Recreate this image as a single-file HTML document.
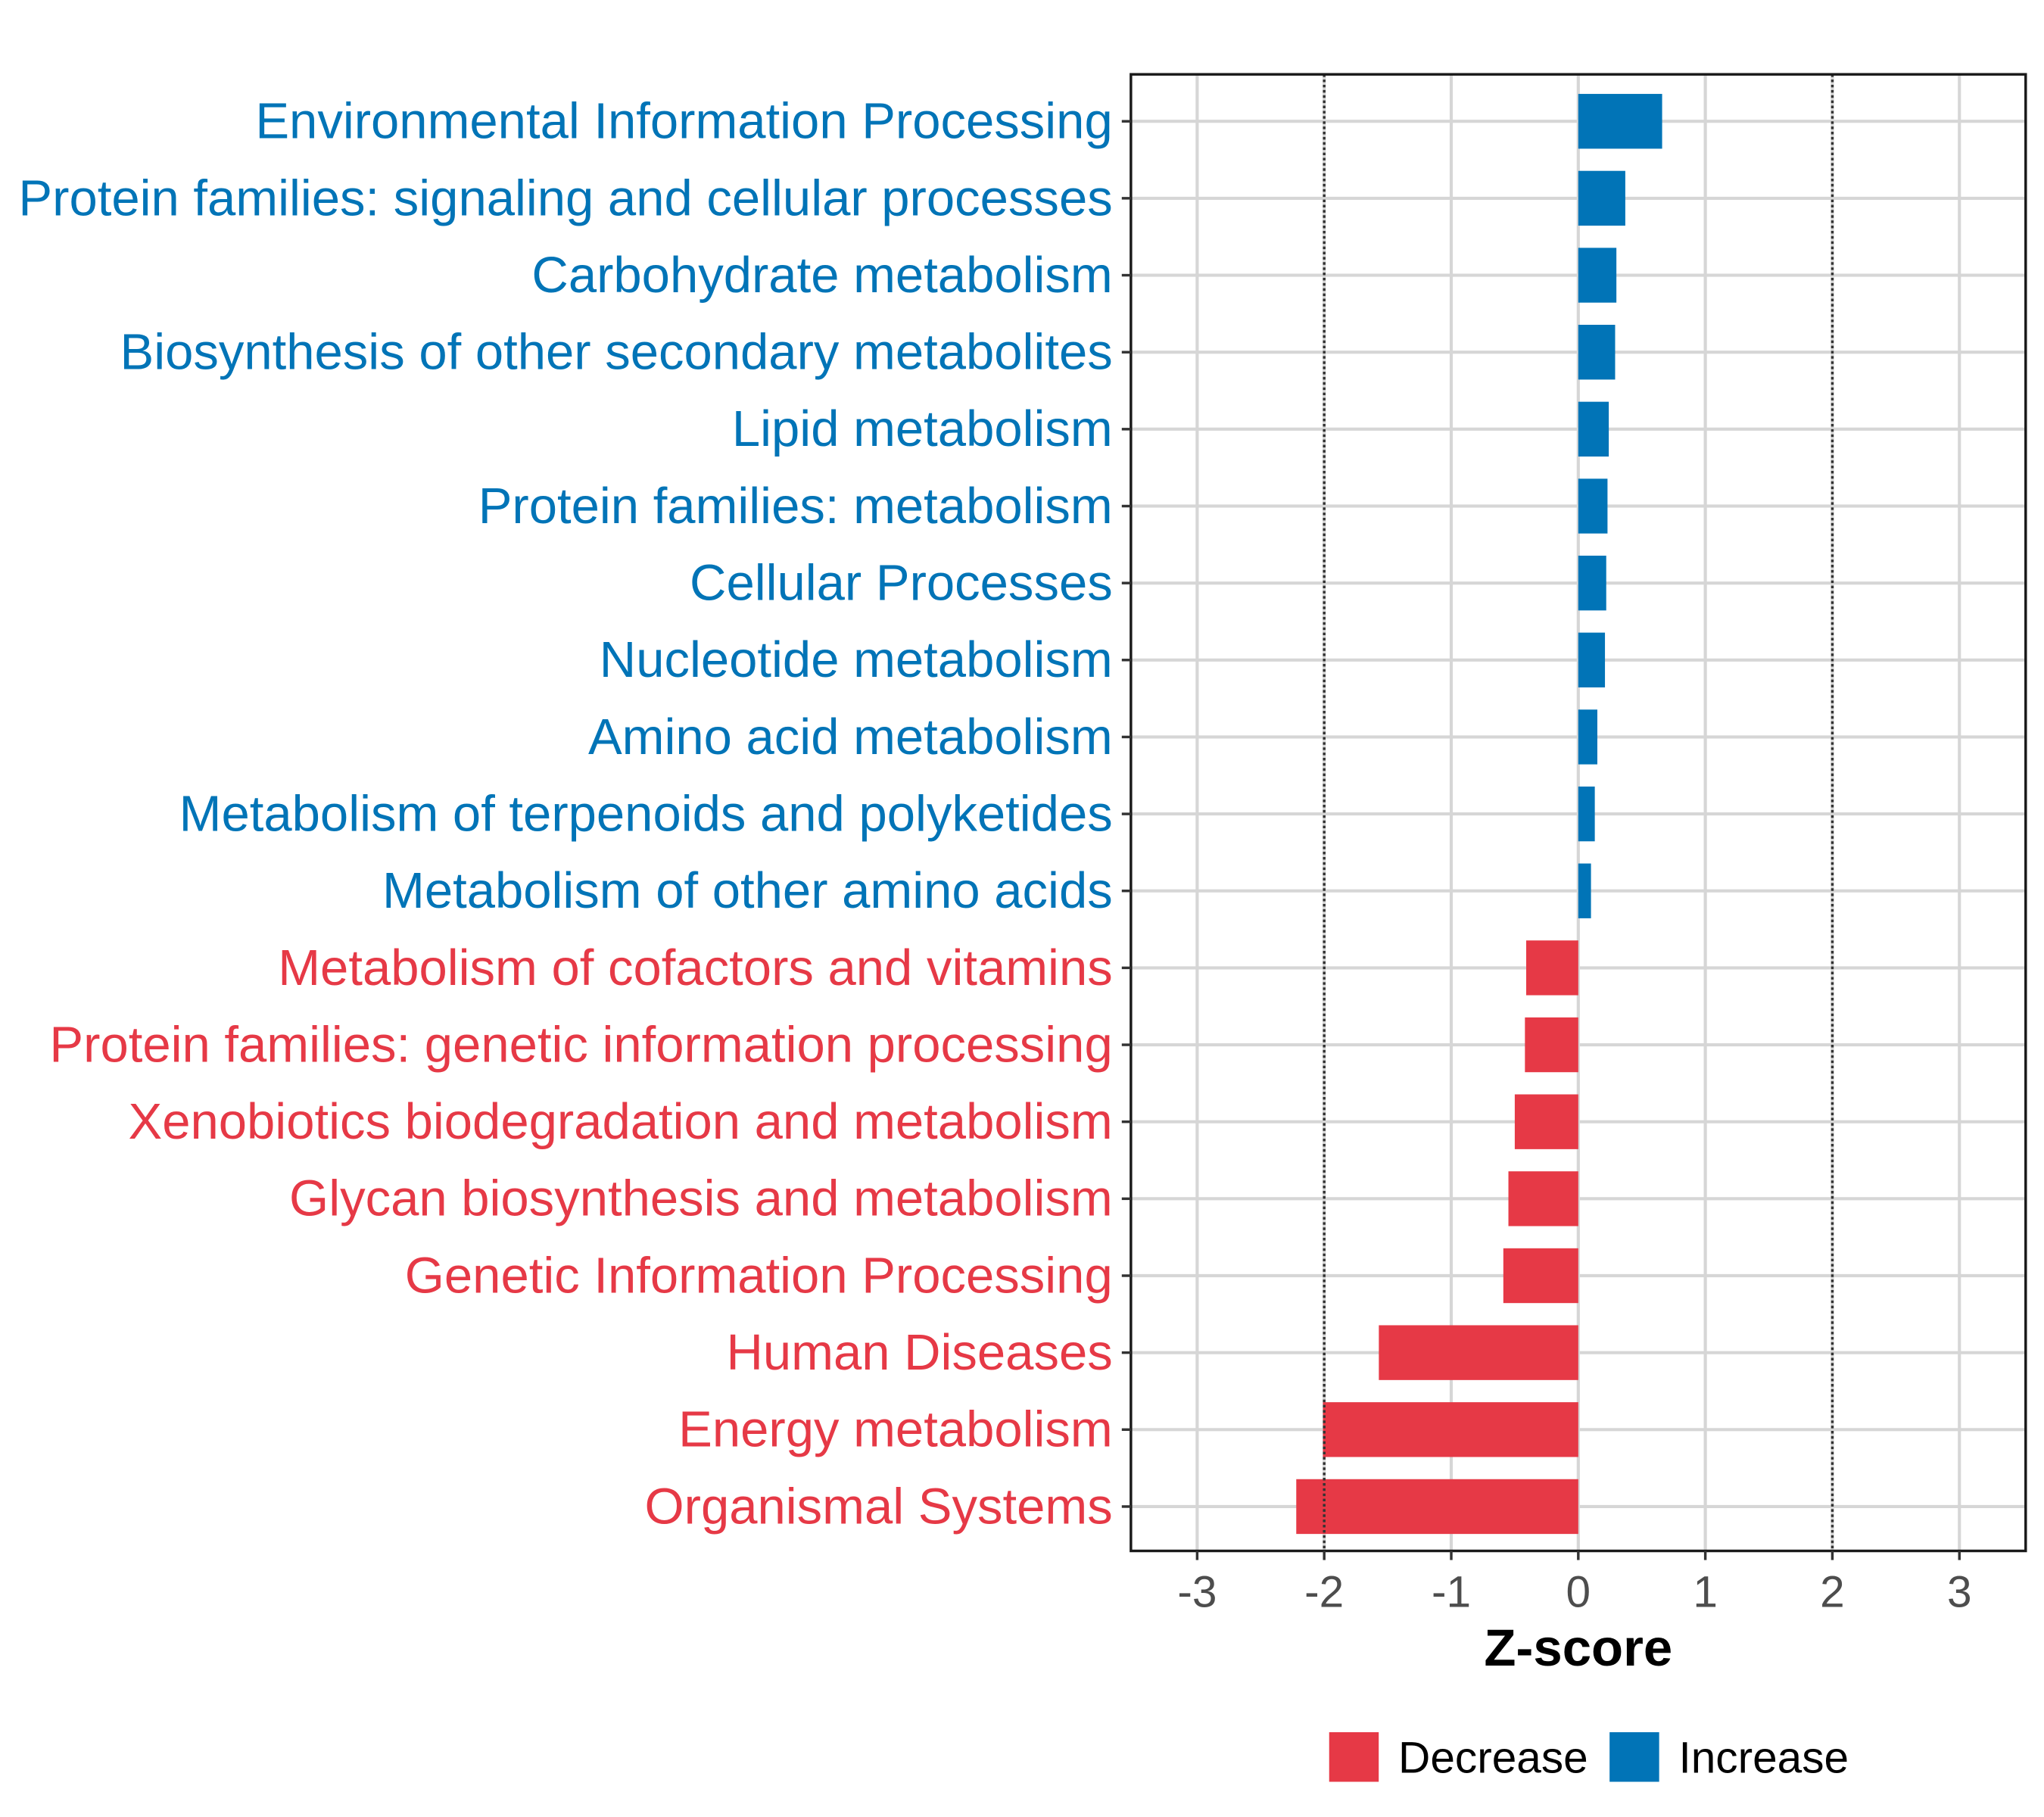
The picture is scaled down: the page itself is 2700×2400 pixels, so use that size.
<!DOCTYPE html>
<html><head><meta charset="utf-8"><style>html,body{margin:0;padding:0;background:#fff}svg{display:block}</style></head>
<body>
<svg id="chart" xmlns="http://www.w3.org/2000/svg" width="2700" height="2400" viewBox="0 0 1567 1393" font-family="Liberation Sans, sans-serif"></svg>
<script>
const categories = ["Environmental Information Processing","Protein families: signaling and cellular processes","Carbohydrate metabolism","Biosynthesis of other secondary metabolites","Lipid metabolism","Protein families: metabolism","Cellular Processes","Nucleotide metabolism","Amino acid metabolism","Metabolism of terpenoids and polyketides","Metabolism of other amino acids","Metabolism of cofactors and vitamins","Protein families: genetic information processing","Xenobiotics biodegradation and metabolism","Glycan biosynthesis and metabolism","Genetic Information Processing","Human Diseases","Energy metabolism","Organismal Systems"];
const zscores = [0.66,0.37,0.30,0.29,0.24,0.23,0.22,0.21,0.15,0.13,0.10,-0.41,-0.42,-0.50,-0.55,-0.59,-1.57,-2.01,-2.22];
const xTicks = [-3,-2,-1,0,1,2,3];
const xTickLabels = ["-3","-2","-1","0","1","2","3"];
const thresholds = [-2,2];

const NS="http://www.w3.org/2000/svg";
const svg=document.getElementById('chart');
const P={l:867,r:1553,t:57,b:1189};
const RED="#e63946", BLUE="#0174b7";
const x=v=>1210+v*97.4;
const y=i=>93+i*(1062/(categories.length-1));
function mk(tag,a,parent){const e=document.createElementNS(NS,tag);for(const k in a)e.setAttribute(k,a[k]);(parent||svg).appendChild(e);return e;}

xTicks.forEach((t,i)=>{
  const g=mk('line',{x1:x(t),x2:x(t),y1:P.t,y2:P.b,stroke:'#d6d6d6','stroke-width':2.4});
  
  
});
categories.forEach((c,i)=>{
  const g=mk('line',{x1:P.l,x2:P.r,y1:y(i),y2:y(i),stroke:'#d6d6d6','stroke-width':2.4});
  
  
});
categories.forEach((c,i)=>{
  const v=zscores[i];
  const b=mk('rect',{x:Math.min(x(0),x(v)),y:y(i)-21,width:Math.abs(x(v)-x(0)),height:42,fill:v>=0?BLUE:RED});
  
  
});
thresholds.forEach(t=>{
  const l=mk('line',{x1:x(t),x2:x(t),y1:P.t,y2:P.b,stroke:'#333','stroke-width':2,'stroke-dasharray':'2,2'});
  
  
});
const pb=mk('rect',{x:P.l,y:P.t,width:P.r-P.l,height:P.b-P.t,fill:'none',stroke:'#1a1a1a','stroke-width':2});


categories.forEach((c,i)=>{
  mk('line',{x1:P.l-7,x2:P.l,y1:y(i),y2:y(i),stroke:'#333','stroke-width':2});
  const t=mk('text',{x:853,y:y(i)+13,'text-anchor':'end','font-size':38.9,fill:zscores[i]>=0?BLUE:RED});
  t.textContent=c;
  
  
});
xTicks.forEach((tv,i)=>{
  mk('line',{x1:x(tv),x2:x(tv),y1:P.b,y2:P.b+7,stroke:'#333','stroke-width':2});
  const t=mk('text',{x:x(tv),y:1232,'text-anchor':'middle','font-size':34,fill:'#4d4d4d'});
  t.textContent=xTickLabels[i];
  
  
});
const xt=mk('text',{x:1210,y:1277,'text-anchor':'middle','font-size':40,'font-weight':'bold',fill:'#000'});
xt.textContent='Z-score';


[[1019,RED,'Decrease'],[1234,BLUE,'Increase']].forEach(([lx,col,lab])=>{
  const r=mk('rect',{x:lx,y:1328,width:38,height:38,fill:col});
  
  
  const t=mk('text',{x:lx+53,y:1359,'font-size':34,fill:'#000'});
  t.textContent=lab;
  
  
});
</script>
</body></html>
